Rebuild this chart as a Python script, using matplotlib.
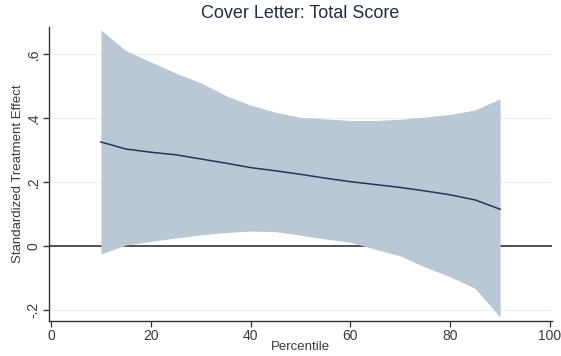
import matplotlib
matplotlib.use("Agg")
import matplotlib.pyplot as plt

plt.rcParams['font.family'] = ['Liberation Sans', 'DejaVu Sans']

percentile = [10, 15, 20, 25, 30, 35, 40, 45, 50, 55, 60, 65, 70, 75, 80, 85, 90]
effect = [0.325, 0.303, 0.293, 0.285, 0.272, 0.259, 0.245, 0.235, 0.224, 0.212, 0.201, 0.192, 0.183, 0.172, 0.160, 0.144, 0.115]
ci_upper = [0.675, 0.610, 0.575, 0.540, 0.510, 0.470, 0.440, 0.418, 0.402, 0.397, 0.392, 0.392, 0.396, 0.403, 0.411, 0.425, 0.460]
ci_lower = [-0.025, 0.003, 0.015, 0.025, 0.035, 0.042, 0.047, 0.045, 0.034, 0.022, 0.012, -0.010, -0.031, -0.066, -0.096, -0.132, -0.222]

x_ticks = [0, 20, 40, 60, 80, 100]
y_ticks = [-0.2, 0, 0.2, 0.4, 0.6]
y_tick_labels = ['-.2', '0', '.2', '.4', '.6']

W, H = 561, 356
fig = plt.figure(figsize=(W / 100, H / 100), dpi=100)
ax_left, ax_right, ax_top, ax_bottom = 49, 552, 27, 321
ax = fig.add_axes([ax_left / W, 1 - ax_bottom / H, (ax_right - ax_left) / W, (ax_bottom - ax_top) / H])

text_col = '#3a3a3a'
band_col = '#b9c8d4'
line_col = '#1a3a5f'

ax.axhline(0, color='#222222', lw=1.1, zorder=1)
ax.fill_between(percentile, ci_lower, ci_upper, color=band_col, lw=0, zorder=2)
ax.plot(percentile, effect, color=line_col, lw=1.1, zorder=3)

for yv in [-0.2, 0.2, 0.4, 0.6]:
    ax.axhline(yv, color='#eaf1f3', lw=0.8, zorder=0)

ax.set_xlim(-0.4, 100.4)
ax.set_ylim(-0.234, 0.684)
ax.set_xticks(x_ticks)
ax.set_yticks(y_ticks)
ax.set_yticklabels(y_tick_labels, rotation=90, va='center')

for s in ['top', 'right']:
    ax.spines[s].set_visible(False)
for s in ['left', 'bottom']:
    ax.spines[s].set_color('#333333')
    ax.spines[s].set_linewidth(1.0)

ax.tick_params(axis='both', colors='#333333', labelcolor=text_col, labelsize=10, length=4, width=0.9, pad=2)

ax.set_xlabel('Percentile', fontsize=9.5, color=text_col, va='center')
ax.xaxis.set_label_coords(0.5, (ax_bottom - 347) / (ax_bottom - ax_top))
ax.set_ylabel('Standardized Treatment Effect', fontsize=9.5, color=text_col, va='center')
ax.yaxis.set_label_coords((18 - ax_left) / (ax_right - ax_left), 0.5)
fig.text(300 / W, 1 - 13 / H, 'Cover Letter: Total Score', ha='center', va='center',
         fontsize=13, color='#1f2d45')

fig.savefig('out.png', dpi=100, facecolor='white')
